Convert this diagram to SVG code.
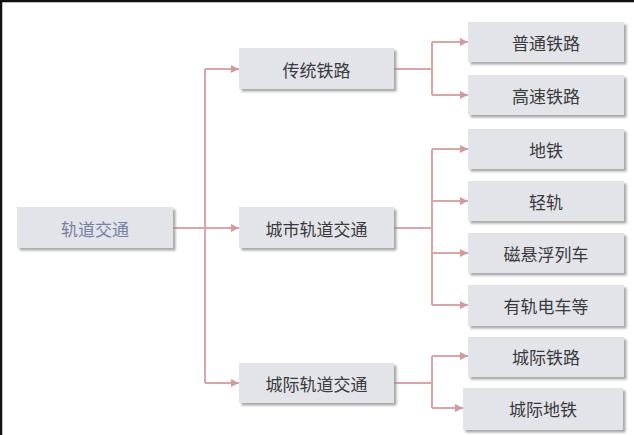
<svg xmlns="http://www.w3.org/2000/svg" width="634" height="435" viewBox="0 0 634 435">
<defs>
<filter id="sh" x="-10%" y="-20%" width="125%" height="150%">
<feDropShadow dx="2.5" dy="2.5" stdDeviation="1.2" flood-color="#8a8a8a" flood-opacity="0.75"/>
</filter>
<marker id="ah" viewBox="0 0 10 10" refX="10" refY="5" markerWidth="9" markerHeight="8" markerUnits="userSpaceOnUse" orient="auto">
<path d="M0,0 L10,5 L0,10 Z" fill="#d29a9b"/>
</marker>
<style>
.box{fill:#e3e4ea;filter:url(#sh)}
.t{font-family:"Noto Sans CJK SC","Noto Sans CJK JP",sans-serif;font-size:17px;fill:#3a3a3a;text-anchor:middle;dominant-baseline:central}
.root{fill:#7580a6}
.c{fill:none;stroke:#d9a6a7;stroke-width:2}
.a{fill:none;stroke:#d9a6a7;stroke-width:2;marker-end:url(#ah)}
</style>
</defs>
<rect width="634" height="435" fill="#ffffff"/>
<path d="M0,1 H634 M1,0 V435" stroke="#111" stroke-width="2.5"/>
<g id="connectors">
<path class="c" d="M173,228 H205 M205,69 V383"/>
<path class="a" d="M205,69 H239"/>
<path class="a" d="M205,228 H239"/>
<path class="a" d="M205,383 H239"/>
<path class="c" d="M394,69 H432 M432,42 V95"/>
<path class="a" d="M432,42 H468"/>
<path class="a" d="M432,95 H468"/>
<path class="c" d="M394,228 H432 M432,149 V305"/>
<path class="a" d="M432,149 H468"/>
<path class="a" d="M432,201 H468"/>
<path class="a" d="M432,253 H468"/>
<path class="a" d="M432,305 H468"/>
<path class="c" d="M394,383 H432 M432,356 V408"/>
<path class="a" d="M432,356 H468"/>
<path class="a" d="M432,408 H463"/>
</g>
<g id="n-root"><rect class="box" x="17" y="207" width="156" height="41"/><text class="t root" x="95" y="228">轨道交通</text></g>
<g id="n-trad"><rect class="box" x="239" y="48" width="155" height="41"/><text class="t" x="316.5" y="69">传统铁路</text></g>
<g id="n-urban"><rect class="box" x="239" y="207" width="155" height="41"/><text class="t" x="316.5" y="228">城市轨道交通</text></g>
<g id="n-inter"><rect class="box" x="239" y="363" width="155" height="40"/><text class="t" x="316.5" y="383">城际轨道交通</text></g>
<g id="n-putong"><rect class="box" x="468" y="22" width="156" height="40"/><text class="t" x="546" y="42">普通铁路</text></g>
<g id="n-gaosu"><rect class="box" x="468" y="75" width="156" height="40"/><text class="t" x="546" y="95">高速铁路</text></g>
<g id="n-ditie"><rect class="box" x="468" y="129" width="156" height="40"/><text class="t" x="546" y="149">地铁</text></g>
<g id="n-qinggui"><rect class="box" x="468" y="181" width="156" height="40"/><text class="t" x="546" y="201">轻轨</text></g>
<g id="n-cixuan"><rect class="box" x="468" y="233" width="156" height="40"/><text class="t" x="546" y="253">磁悬浮列车</text></g>
<g id="n-yougui"><rect class="box" x="468" y="285" width="156" height="41"/><text class="t" x="546" y="305">有轨电车等</text></g>
<g id="n-cjtl"><rect class="box" x="468" y="337" width="156" height="40"/><text class="t" x="546" y="356">城际铁路</text></g>
<g id="n-cjdt"><rect class="box" x="463" y="388" width="160" height="42"/><text class="t" x="543" y="408">城际地铁</text></g>
</svg>
